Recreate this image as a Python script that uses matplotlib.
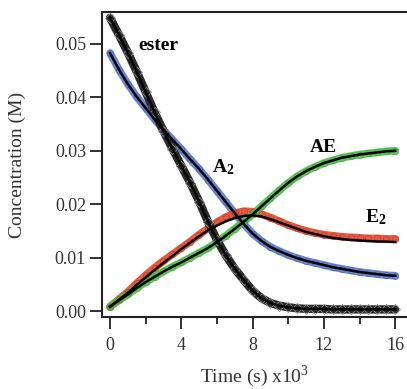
import matplotlib
matplotlib.use('Agg')
import matplotlib.pyplot as plt

plt.rcParams['font.family'] = 'Liberation Serif'
plt.rcParams['mathtext.fontset'] = 'custom'
plt.rcParams['mathtext.rm'] = 'Liberation Serif'
plt.rcParams['mathtext.bf'] = 'Liberation Serif:bold'

# time in units of 10^3 s
time = [0, 0.5, 1, 1.5, 2, 2.5, 3, 3.5, 4, 4.5, 5, 5.5, 6, 6.5, 7, 7.5, 8,
        8.5, 9, 9.5, 10, 10.5, 11, 11.5, 12, 12.5, 13, 13.5, 14, 14.5, 15, 15.5, 16]

ester = [0.0549, 0.0517, 0.0484, 0.0448, 0.0410, 0.0372, 0.0337, 0.0304, 0.0272,
         0.0240, 0.0205, 0.0167, 0.0133, 0.0104, 0.0079, 0.0058, 0.0038, 0.0024,
         0.0015, 0.0010, 0.0007, 0.0005, 0.0004, 0.0004, 0.0004, 0.0003, 0.0003,
         0.0003, 0.0003, 0.0003, 0.0003, 0.0003, 0.0003]

a2 = [0.0483, 0.0452, 0.0425, 0.0401, 0.0380, 0.0359, 0.0339, 0.0321, 0.0303,
      0.0284, 0.0266, 0.0246, 0.0225, 0.0204, 0.0183, 0.0163, 0.0145, 0.0131,
      0.0120, 0.0112, 0.0105, 0.0099, 0.0094, 0.0090, 0.0086, 0.0082, 0.0079,
      0.0076, 0.0073, 0.0071, 0.0069, 0.0067, 0.0066]

e2 = [0.0008, 0.0022, 0.0036, 0.0052, 0.0067, 0.0081, 0.0094, 0.0106, 0.0118,
      0.0130, 0.0143, 0.0155, 0.0166, 0.0176, 0.0183, 0.0187, 0.0186, 0.0181,
      0.0175, 0.0168, 0.0161, 0.0155, 0.0150, 0.0146, 0.0143, 0.0141, 0.0139,
      0.0138, 0.0137, 0.0136, 0.0136, 0.0135, 0.0135]

e2_fit = [0.0008, 0.0021, 0.0034, 0.0049, 0.0063, 0.0077, 0.0090, 0.0103, 0.0116,
          0.0128, 0.0140, 0.0151, 0.0160, 0.0168, 0.0174, 0.0178, 0.0179, 0.0177,
          0.0172, 0.0166, 0.0160, 0.0154, 0.0148, 0.0144, 0.0140, 0.0137, 0.0135,
          0.0133, 0.0132, 0.0131, 0.0130, 0.0130, 0.0129]

ae = [0.0008, 0.0020, 0.0031, 0.0043, 0.0054, 0.0064, 0.0074, 0.0083, 0.0091,
      0.0100, 0.0109, 0.0118, 0.0129, 0.0141, 0.0154, 0.0167, 0.0181, 0.0196,
      0.0211, 0.0226, 0.0240, 0.0252, 0.0262, 0.0270, 0.0277, 0.0282, 0.0287,
      0.0290, 0.0293, 0.0295, 0.0297, 0.0299, 0.0300]

fig = plt.figure(figsize=(4.07, 3.89), dpi=100)
ax = fig.add_axes([0.2506, 0.1851, 0.7494, 0.7841])

# measured data: thick fuzzy bands of markers
for y, col, edge in [(a2, '#5a7bcb', '#4465b8'), (e2, '#e0482f', '#cc3a22'),
                     (ae, '#4dbd49', '#3aa536')]:
    ax.plot(time, y, color=col, lw=5.5, alpha=0.9, solid_capstyle='round', zorder=2)
    ax.plot(time, y, 'o', ms=4.5, mfc='none', mec=edge, mew=0.6, alpha=0.8, zorder=3)

ax.plot(time, ester, color='#2a2a2a', lw=6, solid_capstyle='round', zorder=2)
ax.plot(time, ester, 'D', ms=5, mfc='none', mec='#8a8a8a', mew=0.6, zorder=3)

# model fits
for y in [ester, a2, e2_fit, ae]:
    ax.plot(time, y, color='black', lw=1.8, zorder=4)

ax.text(1.57, 0.0489, 'ester', fontsize=14, fontweight='bold')
ax.text(5.72, 0.0260, r'$\mathbf{A_2}$', fontsize=14)
ax.text(11.22, 0.0298, 'AE', fontsize=14, fontweight='bold')
ax.text(14.3, 0.0167, r'$\mathbf{E_2}$', fontsize=14)

ax.set_xlim(-0.449, 16.66)
ax.set_ylim(-0.00112, 0.05599)
ax.set_xticks([0, 4, 8, 12, 16])
ax.set_xticks([2, 6, 10, 14], minor=True)
ax.set_yticks([0.0, 0.01, 0.02, 0.03, 0.04, 0.05])
ax.set_yticklabels(['0.00', '0.01', '0.02', '0.03', '0.04', '0.05'])
ax.tick_params(axis='both', which='major', direction='out', length=8.5, width=1.3,
               labelsize=13, color='#222222', labelcolor='#333333')
ax.tick_params(axis='y', pad=3)
ax.tick_params(axis='x', pad=6)
ax.tick_params(axis='x', which='minor', direction='out', length=5, width=1.3, color='#222222')
for s in ['left', 'bottom', 'top']:
    ax.spines[s].set_linewidth(1.5)
    ax.spines[s].set_color('#222222')
ax.spines['right'].set_visible(False)

fig.text(17 / 407, 1 - 165 / 389, 'Concentration (M)', rotation=90, ha='center',
         va='center', fontsize=14, color='#333333')
fig.text(200 / 407, 7 / 389, r'Time (s) x10$^3$', ha='left', va='baseline',
         fontsize=14, color='#333333')

fig.savefig('out.png', dpi=100)
